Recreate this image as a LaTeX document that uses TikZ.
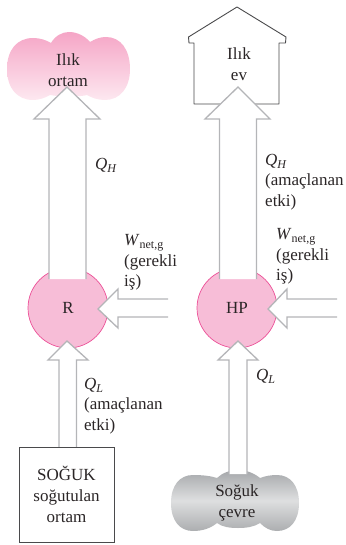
\documentclass[tikz,border=0pt]{standalone}
\usepackage{fontspec}
\setmainfont{Liberation Serif}
\definecolor{arrowgray}{HTML}{B4B5B8}
\definecolor{pinkfill}{HTML}{F7BDD7}
\definecolor{pinkedge}{HTML}{EC4F97}
\definecolor{linegray}{HTML}{4A4A4C}
\definecolor{txt}{HTML}{2A2526}
\newcommand{\qty}[2]{\textit{#1}\raisebox{-3pt}{\fontsize{12}{12}\selectfont #2}}
\tikzset{
  blockarrow/.style={draw=arrowgray,line width=1.3pt,fill=white,line join=miter},
  device/.style={circle,draw=pinkedge,line width=.7pt,fill=pinkfill,minimum size=80pt,inner sep=0pt,text=txt,font=\fontsize{17}{20}\selectfont},
  lbl/.style={text=txt,font=\fontsize{17}{20.5}\selectfont,align=left,inner sep=0pt,anchor=north west},
  ctr/.style={text=txt,font=\fontsize{17}{21}\selectfont,align=center,inner sep=0pt},
  outline/.style={draw=linegray,line width=.9pt,fill=white,line join=round}
}
\begin{document}
\begin{tikzpicture}[x=1pt,y=-1pt]
\useasboundingbox (0,0) rectangle (345,545);
% warm cloud
\path[shade,top color={rgb,255:red,245;green,165;blue,198},bottom color={rgb,255:red,253;green,232;blue,240}]
  (7,69) .. controls (7,50) and (17,38) .. (33,38)
  .. controls (40,38) and (46,40) .. (51,43)
  .. controls (55,36) and (62,32) .. (69,32)
  .. controls (77,32) and (85,36) .. (90,42)
  .. controls (95,39) and (100,37) .. (106,37)
  .. controls (121,37) and (130,50) .. (130,69)
  .. controls (130,88) and (120,100) .. (105,100)
  .. controls (98,100) and (92,98) .. (87,95)
  .. controls (80,97) and (60,97) .. (50,95)
  .. controls (45,98) and (39,100) .. (33,100)
  .. controls (17,100) and (7,88) .. (7,69) -- cycle;
% cold cloud
\path[shade,top color={rgb,255:red,165;green,167;blue,170},bottom color={rgb,255:red,172;green,174;blue,176},middle color={rgb,255:red,222;green,223;blue,224}]
  (171,503) .. controls (171,485) and (180,475) .. (193,475)
  .. controls (203,475) and (211,476) .. (217,478)
  .. controls (222,473) and (230,470) .. (238,470)
  .. controls (246,470) and (254,473) .. (260,478)
  .. controls (265,476) and (271,475) .. (277,475)
  .. controls (290,475) and (299,485) .. (299,503)
  .. controls (299,521) and (290,531) .. (277,531)
  .. controls (270,531) and (265,528) .. (260,523)
  .. controls (254,527) and (246,528) .. (238,528)
  .. controls (230,528) and (222,527) .. (217,523)
  .. controls (211,528) and (203,531) .. (193,531)
  .. controls (180,531) and (171,521) .. (171,503) -- cycle;
% house
\draw[outline] (194,104) -- (194,43) -- (189,43) -- (188.5,37) -- (237,7) -- (286,37) -- (285.5,43) -- (279,43) -- (279,104) -- cycle;
% devices
\node[device] (R) at (68,308) {R};
\node[device] (HP) at (237,308) {HP};
% big arrows
\coordinate (a1) at (67,87);
\draw[blockarrow] (49,279) -- (49,119) -- (34,119) -- (a1) -- (100,119) -- (86,119) -- (86,279);
\coordinate (a2) at (238,87);
\draw[blockarrow] (219.5,279) -- (219.5,119) -- (205,119) -- (a2) -- (270,119) -- (256.5,119) -- (256.5,279);
% work arrows
\draw[blockarrow] (168,299) -- (118,299) -- (118,289) -- (98,309) -- (118,328) -- (118,317) -- (168,317);
\draw[blockarrow] (337,299) -- (287,299) -- (287,289) -- (268,309) -- (287,328) -- (287,317) -- (337,317);
% lower arrows
\draw[blockarrow] (59,447) -- (59,360) -- (48,360) -- (67,341) -- (88,360) -- (76.5,360) -- (76.5,447);
\draw[blockarrow] (229,474) -- (229,360) -- (218,360) -- (238,341) -- (258,360) -- (247,360) -- (247,474);
% box
\node[draw=linegray,line width=.9pt,fill=white,minimum size=95pt,inner sep=0pt,ctr] (box) at (66.5,494.5) {\raisebox{-1.5pt}{SOĞUK}\\[0pt]\raisebox{-1.5pt}{soğutulan}\\\raisebox{-1.5pt}{ortam}};
% texts
\node[ctr] (warm) at (68,70) {Ilık\\ortam};
\node[ctr] (home) at (239,64) {Ilık\\ev};
\node[ctr] (cold) at (237,503) {Soğuk\\çevre};
\node[lbl] (qh1) at (95,158) {\qty{Q}{\textit{H}}};
\node[lbl] (qh2) at (265,154) {\qty{Q}{\textit{H}}\\(amaçlanan\\etki)};
\node[lbl] (w1) at (124,234.5) {\qty{W}{net,g}\\(gerekli\\iş)};
\node[lbl] (w2) at (276,228.5) {\qty{W}{net,g}\\(gerekli\\iş)};
\node[lbl] (ql1) at (84,378) {\qty{Q}{\textit{L}}\\(amaçlanan\\etki)};
\node[lbl] (ql2) at (256,369.5) {\qty{Q}{\textit{L}}};
\end{tikzpicture}
\end{document}
